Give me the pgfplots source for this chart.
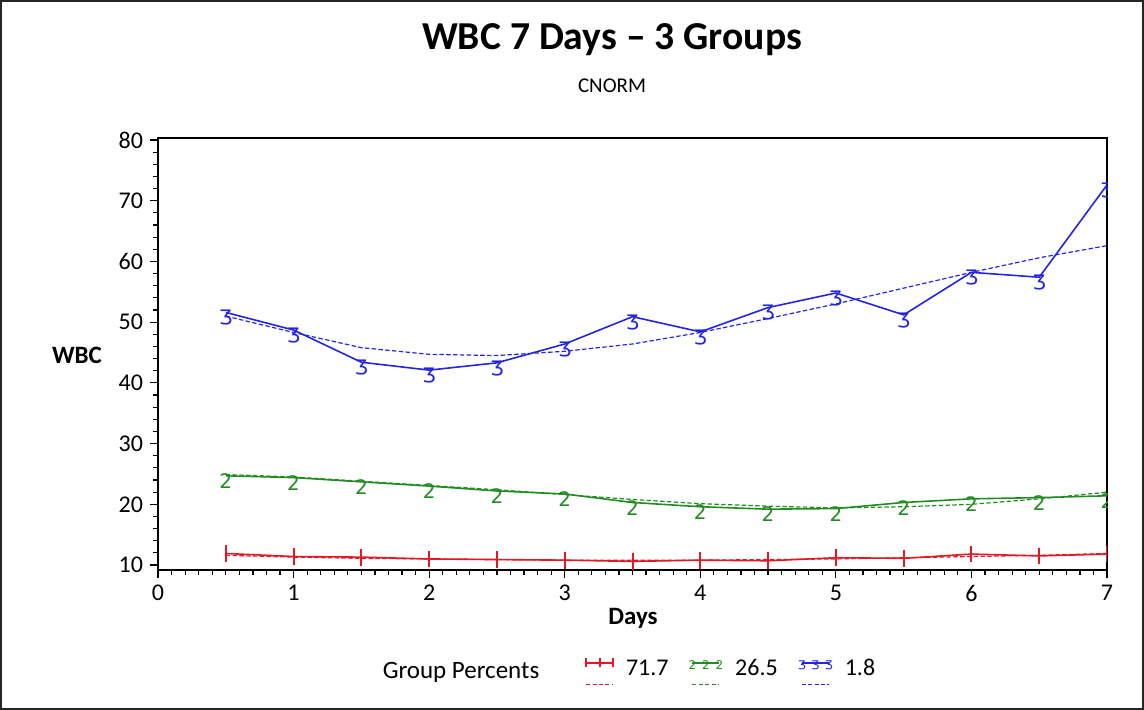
\documentclass[border=0pt]{standalone}
\usepackage{pgfplots}
\pgfplotsset{compat=1.18}
\usepackage{fontspec}
\setmainfont{Carlito}
\newfontfamily\mkfamily{DejaVu Sans}
\newcommand\mkfont{\mkfamily\fontsize{10}{10}\selectfont}

\definecolor{gred}{RGB}{228,24,36}
\definecolor{ggreen}{RGB}{34,140,34}
\definecolor{gblue}{RGB}{36,36,228}

% observed means, group 71.7%
\pgfplotstableread{
x y
0.5 11.9
1.0 11.4
1.5 11.3
2.0 11.0
2.5 10.9
3.0 10.8
3.5 10.6
4.0 10.8
4.5 10.7
5.0 11.2
5.5 11.1
6.0 11.8
6.5 11.5
7.0 11.8
}\redobs
\pgfplotstableread{
x y
0.5 11.6
1.0 11.3
1.5 11.1
2.0 11.0
2.5 10.9
3.0 10.8
3.5 10.8
4.0 10.8
4.5 10.9
5.0 11.0
5.5 11.2
6.0 11.4
6.5 11.6
7.0 11.9
}\redfit
% group 26.5%
\pgfplotstableread{
x y
0.5 24.7
1.0 24.4
1.5 23.7
2.0 23.0
2.5 22.2
3.0 21.7
3.5 20.3
4.0 19.6
4.5 19.2
5.0 19.3
5.5 20.3
6.0 20.9
6.5 21.1
7.0 21.4
}\greenobs
\pgfplotstableread{
x y
0.5 24.9
1.0 24.5
1.5 23.8
2.0 23.1
2.5 22.4
3.0 21.6
3.5 20.8
4.0 20.1
4.5 19.7
5.0 19.4
5.5 19.6
6.0 20.0
6.5 20.9
7.0 22.0
}\greenfit
% group 1.8%
\pgfplotstableread{
x y
0.5 51.6
1.0 48.7
1.5 43.4
2.0 42.1
2.5 43.3
3.0 46.4
3.5 50.9
4.0 48.4
4.5 52.4
5.0 54.8
5.5 51.2
6.0 58.2
6.5 57.4
7.0 72.6
}\blueobs
\pgfplotstableread{
x y
0.5 51.0
1.0 48.3
1.5 45.8
2.0 44.7
2.5 44.5
3.0 45.2
3.5 46.4
4.0 48.3
4.5 50.6
5.0 53.0
5.5 55.6
6.0 58.2
6.5 60.6
7.0 62.6
}\bluefit

\begin{document}
\begin{tikzpicture}
\path[use as bounding box] (0pt,0pt) rectangle (572pt,-355pt);
\draw[line width=1pt, black!85] (0.5pt,-0.5pt) rectangle (571.5pt,-354.5pt);

\node at (306pt,-20pt) {\fontsize{19.8}{23}\selectfont\bfseries WBC 7 Days – 3 Groups};
\node at (306pt,-43pt) {\fontsize{10.5}{12}\selectfont CNORM};
\node at (38.5pt,-177.5pt) {\fontsize{12.5}{14}\selectfont\bfseries WBC};
\node at (316.5pt,-309pt) {\fontsize{12.5}{14}\selectfont\bfseries Days};
\node at (230.5pt,-336pt) {\fontsize{12.5}{14}\selectfont Group Percents};

\begin{axis}[
  at={(79pt,-285pt)}, anchor=south west,
  scale only axis, width=474.5pt, height=216pt,
  xmin=0, xmax=7, ymin=9.18, ymax=80.33,
  xtick={0,...,7}, ytick={10,20,...,80},
  minor x tick num=9, minor y tick num=4,
  tick align=outside, xtick pos=left, ytick pos=left,
  major tick length=4pt, minor tick length=2.5pt,
  axis line style={line width=0.9pt, black},
  tick style={black, line width=0.6pt},
  ticklabel style={font=\fontsize{12}{14}\selectfont},
  /pgf/number format/assume math mode=true,
  clip marker paths=true,
  text mark as node=true,
  every axis plot/.append style={line width=0.8pt},
  legend columns=3,
  legend style={at={(0.45,-0.236)}, anchor=west, draw=none, fill=none,
    inner sep=0pt, nodes={inner sep=0pt, font=\fontsize{12}{14}\selectfont},
    /tikz/every odd column/.append style={column sep=6pt},
    /tikz/every even column/.append style={column sep=10pt}},
  legend image code/.code={%
    {\def\mkfont{\mkfamily\fontsize{6}{6}\selectfont}%
    \draw[mark repeat=1, #1, mark size=2.2pt] plot coordinates {(0pt,3pt) (6.75pt,3pt) (13.5pt,3pt)};
    \draw[#1, mark=none, line width=0.6pt, dash pattern=on 2pt off 1.2pt] (0pt,-8pt) -- (13.5pt,-8pt);}%
  },
]
% group 71.7
\addplot[gred, mark=|, mark size=4.2pt, mark options={line width=1pt}] table {\redobs};
\addlegendentry{71.7}
\addplot[gred, line width=0.6pt, dash pattern=on 2.2pt off 1.2pt, forget plot] table {\redfit};
% group 26.5
\addplot[ggreen, mark=text, text mark={\mkfont 2},
  text mark style={anchor=north, yshift=1.5pt, inner sep=0pt}] table {\greenobs};
\addlegendentry{26.5}
\addplot[ggreen, line width=0.6pt, dash pattern=on 2.2pt off 1.2pt, forget plot] table {\greenfit};
% group 1.8
\addplot[gblue, mark=text, text mark={\mkfont Ʒ},
  text mark style={anchor=north, yshift=1.5pt, inner sep=0pt}] table {\blueobs};
\addlegendentry{1.8}
\addplot[gblue, line width=0.6pt, dash pattern=on 2.2pt off 1.2pt, forget plot] table {\bluefit};
\end{axis}
\end{tikzpicture}
\end{document}
